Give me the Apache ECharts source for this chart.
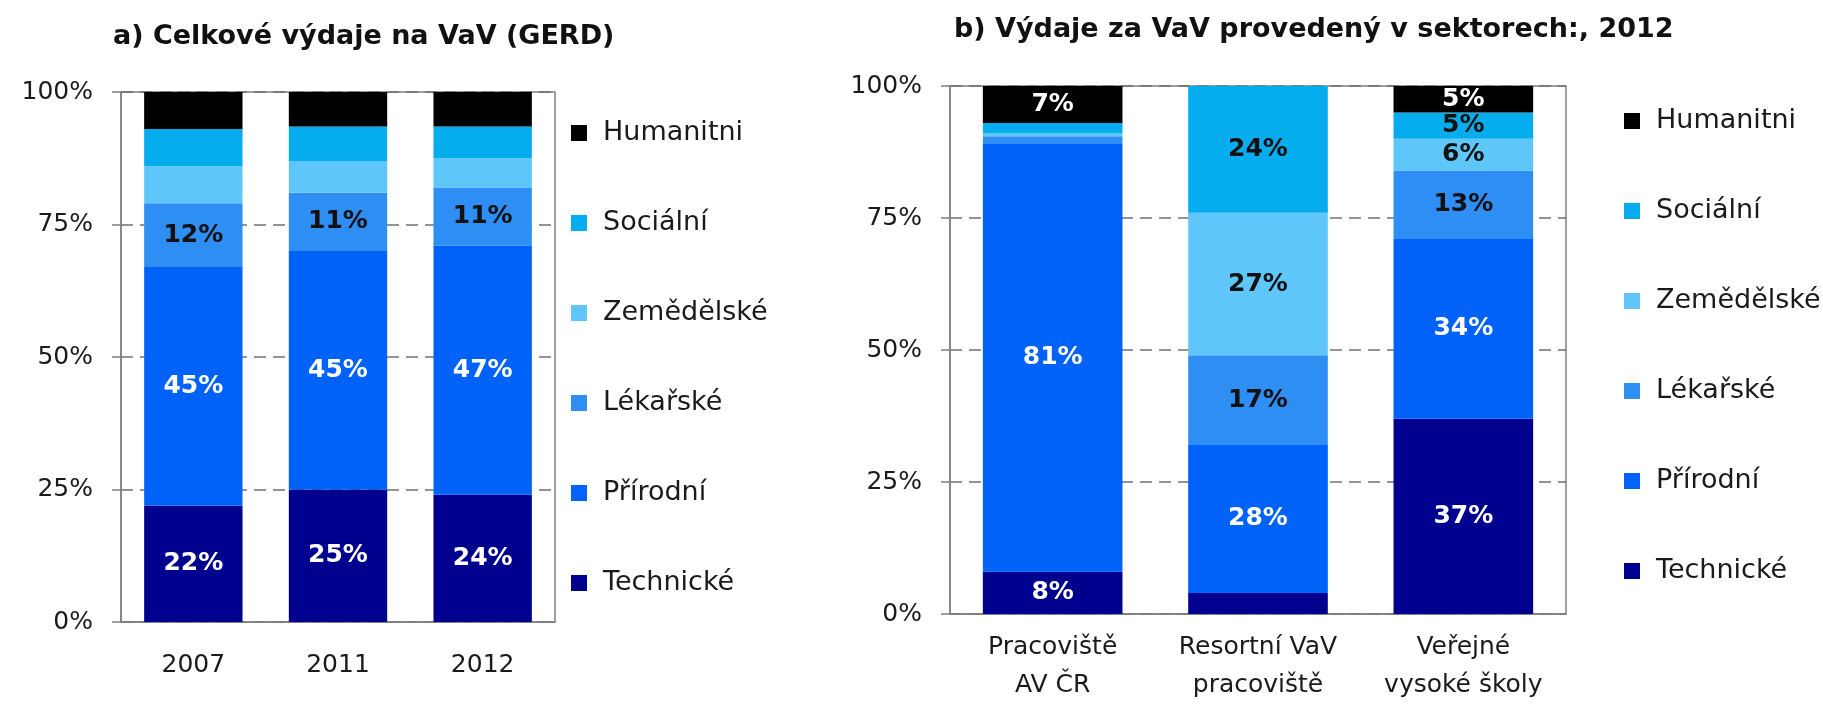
<!DOCTYPE html>
<html>
<head>
<meta charset="utf-8">
<script src="https://cdn.jsdelivr.net/npm/echarts@6/dist/echarts.min.js"></script>
<style>
  html, body { margin: 0; padding: 0; background: #fff; }
  #chart { width: 1823px; height: 704px; }
</style>
</head>
<body>
<div id="chart"></div>
<script>
// categories
const years = ['2007', '2011', '2012'];
const sectors = ['Pracoviště\nAV ČR', 'Resortní VaV\npracoviště', 'Veřejné\nvysoké školy'];
const fields = ['Technické', 'Přírodní', 'Lékařské', 'Zemědělské', 'Sociální', 'Humanitni'];
const legendOrder = ['Humanitni', 'Sociální', 'Zemědělské', 'Lékařské', 'Přírodní', 'Technické'];

// a) GERD shares by field (%), per year
const gerdTechnicke = [22, 25, 24];
const gerdPrirodni = [45, 45, 47];
const gerdLekarske = [12, 11, 11];
const gerdZemedelske = [7, 6, 5.5];
const gerdSocialni = [7, 6.5, 6];
const gerdHumanitni = [7, 6.5, 6.5];

// b) 2012 shares by field (%), per sector
const sectTechnicke = [8, 4, 37];
const sectPrirodni = [81, 28, 34];
const sectLekarske = [1.5, 17, 13];
const sectZemedelske = [0.5, 27, 6];
const sectSocialni = [2, 24, 5];
const sectHumanitni = [7, 0, 5];

// which segments carry a value label (1 = shown)
const gerdLabels = [[1, 1, 1], [1, 1, 1], [1, 1, 1], [0, 0, 0], [0, 0, 0], [0, 0, 0]];
const sectLabels = [[1, 0, 1], [1, 1, 1], [0, 1, 1], [0, 1, 1], [0, 1, 1], [1, 0, 1]];

const colors = ['#00008f', '#0062f8', '#2f8ef3', '#5fc6f9', '#05adef', '#000000'];
const labelColors = ['#ffffff', '#ffffff', '#111111', '#111111', '#111111', '#ffffff'];
const FONT = 'DejaVu Sans';

function buildSeries(values, shown, idx) {
  return fields.map((name, i) => ({
    name: name,
    type: 'bar',
    stack: 'total' + idx,
    xAxisIndex: idx,
    yAxisIndex: idx,
    barWidth: '68%',
    itemStyle: { color: colors[i] },
    label: {
      position: 'inside',
      color: labelColors[i],
      fontFamily: FONT,
      fontWeight: 'bold',
      fontSize: 25,
      formatter: (p) => Math.round(p.value) + '%'
    },
    data: values[i].map((v, j) => ({ value: v, label: { show: !!shown[i][j] } }))
  }));
}

function yAxis(idx) {
  return {
    type: 'value',
    gridIndex: idx,
    min: 0,
    max: 100,
    interval: 25,
    axisLine: { show: true, lineStyle: { color: '#808080', width: 1.5 } },
    axisTick: { show: true, length: 9, lineStyle: { color: '#808080', width: 1.5 } },
    axisLabel: {
      formatter: '{value}%',
      margin: 28,
      color: '#1a1a1a',
      fontFamily: FONT,
      fontSize: 25
    },
    splitLine: { show: true, lineStyle: { color: '#707070', width: 1.5, type: [12, 7] } }
  };
}

function legend(left, top) {
  return {
    orient: 'vertical',
    left: left,
    top: top,
    data: legendOrder,
    icon: 'rect',
    itemWidth: 16,
    itemHeight: 16,
    itemGap: 60,
    selectedMode: false,
    textStyle: {
      color: '#1a1a1a',
      fontFamily: FONT,
      fontSize: 27,
      lineHeight: 30,
      padding: [0, 0, 0, 11]
    }
  };
}

const gerdValues = [gerdTechnicke, gerdPrirodni, gerdLekarske, gerdZemedelske, gerdSocialni, gerdHumanitni];
const sectValues = [sectTechnicke, sectPrirodni, sectLekarske, sectZemedelske, sectSocialni, sectHumanitni];

const chart = echarts.init(document.getElementById('chart'));
chart.setOption({
  animation: false,
  backgroundColor: '#ffffff',
  title: [
    {
      text: 'a) Celkové výdaje na VaV (GERD)',
      left: 108, top: 18,
      textStyle: { fontFamily: FONT, fontWeight: 'bold', fontSize: 27, color: '#111' }
    },
    {
      text: 'b) Výdaje za VaV provedený v sektorech:, 2012',
      left: 949, top: 11,
      textStyle: { fontFamily: FONT, fontWeight: 'bold', fontSize: 27, color: '#111' }
    }
  ],
  legend: [legend(566, 113), legend(1619, 101)],
  grid: [
    { left: 121, top: 92, width: 434, height: 530, show: true, borderColor: '#808080', borderWidth: 1.5 },
    { left: 950, top: 86, width: 616, height: 530, show: true, borderColor: '#808080', borderWidth: 1.5 }
  ],
  xAxis: [
    {
      type: 'category', gridIndex: 0, data: years,
      axisLine: { lineStyle: { color: '#808080', width: 1.5 } },
      axisTick: { show: false },
      axisLabel: { interval: 0, margin: 31, color: '#1a1a1a', fontFamily: FONT, fontSize: 25 }
    },
    {
      type: 'category', gridIndex: 1, data: sectors,
      axisLine: { lineStyle: { color: '#808080', width: 1.5 } },
      axisTick: { show: false },
      axisLabel: { interval: 0, hideOverlap: false, margin: 14, color: '#1a1a1a', fontFamily: FONT, fontSize: 25, lineHeight: 38 }
    }
  ],
  yAxis: [yAxis(0), yAxis(1)],
  series: buildSeries(gerdValues, gerdLabels, 0).concat(buildSeries(sectValues, sectLabels, 1))
});
</script>
</body>
</html>
